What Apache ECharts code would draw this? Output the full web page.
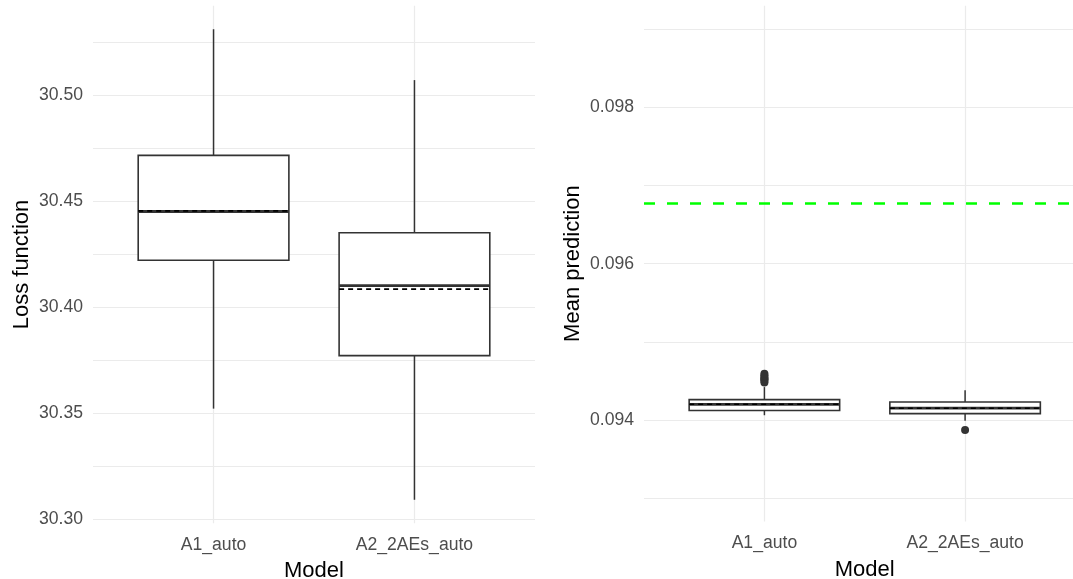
<!DOCTYPE html>
<html>
<head>
<meta charset="utf-8">
<title>Loss function and mean prediction by model</title>
<script src="https://cdn.jsdelivr.net/npm/echarts@6/dist/echarts.min.js"></script>
<style>
  html, body { margin: 0; padding: 0; background: #ffffff; }
  #chart { width: 1073px; height: 579px; }
</style>
</head>
<body>
<div id="chart"></div>
<script>
// Models on the x axis of both panels
const models = ['A1_auto', 'A2_2AEs_auto'];

// Left panel: loss function box summaries (whisker ends, quartiles, median, mean)
const lossLower  = [30.352, 30.309];
const lossQ1     = [30.422, 30.377];
const lossMedian = [30.445, 30.410];
const lossQ3     = [30.4715, 30.435];
const lossUpper  = [30.531, 30.507];
const lossMean   = [30.4453, 30.4084];
const lossBreaks      = [30.30, 30.35, 30.40, 30.45, 30.50];
const lossMinorBreaks = [30.325, 30.375, 30.425, 30.475, 30.525];

// Right panel: mean prediction box summaries
const predLower  = [0.09406, 0.09399];
const predQ1     = [0.09412, 0.09408];
const predMedian = [0.09420, 0.09415];
const predQ3     = [0.09426, 0.09423];
const predUpper  = [0.09442, 0.09438];
const predMean   = [0.09420, 0.09415];
const predOutliersA1 = [0.09448, 0.09450, 0.09452, 0.09453, 0.09455, 0.09457, 0.09459];
const predOutliersA2 = [0.09387];
const predLimits      = [0.093, 0.099];
const predBreaks      = [0.094, 0.096, 0.098];
const predMinorBreaks = [0.093, 0.095, 0.097, 0.099];
// Observed mean (reference line)
const observedMean = 0.09677;

const FONT = "'Liberation Sans', Arial, Helvetica, sans-serif";
const INK = '#333333';
const GRID_COLOR = '#EBEBEB';

// ggplot-style 5% expansion of a continuous range
function expand(lo, hi) {
  const d = (hi - lo) * 0.05;
  return [lo - d, hi + d];
}
const lossRange = expand(Math.min(...lossLower), Math.max(...lossUpper));
const predRange = expand(predLimits[0], predLimits[1]);

// Discrete x scale: positions 1..n with 0.6 padding on each side
const xPos = models.map((_, i) => i + 1);
const xMin = 1 - 0.6;
const xMax = models.length + 0.6;
const BOX_HALF = 0.375;

function boxData(lower, q1, med, q3, upper, mean) {
  return xPos.map((x, i) => [x, lower[i], q1[i], med[i], q3[i], upper[i], mean[i]]);
}

function renderBox(params, api) {
  const x = api.value(0);
  const lo = api.coord([x, api.value(1)]);
  const q1 = api.coord([x, api.value(2)]);
  const med = api.coord([x, api.value(3)]);
  const q3 = api.coord([x, api.value(4)]);
  const hi = api.coord([x, api.value(5)]);
  const mean = api.coord([x, api.value(6)]);
  const left = api.coord([x - BOX_HALF, api.value(3)])[0];
  const right = api.coord([x + BOX_HALF, api.value(3)])[0];
  return {
    type: 'group',
    children: [
      { type: 'line', shape: { x1: hi[0], y1: hi[1], x2: q3[0], y2: q3[1] },
        style: { stroke: INK, lineWidth: 1.5 } },
      { type: 'line', shape: { x1: q1[0], y1: q1[1], x2: lo[0], y2: lo[1] },
        style: { stroke: INK, lineWidth: 1.5 } },
      { type: 'rect', shape: { x: left, y: q3[1], width: right - left, height: q1[1] - q3[1] },
        style: { fill: '#ffffff', stroke: INK, lineWidth: 1.6 } },
      { type: 'line', shape: { x1: left, y1: med[1], x2: right, y2: med[1] },
        style: { stroke: INK, lineWidth: 2.8 } },
      { type: 'line', shape: { x1: left, y1: mean[1], x2: right, y2: mean[1] },
        style: { stroke: '#000000', lineWidth: 1.6, lineDash: [5, 4] } }
    ]
  };
}

function xAxisFor(gridIndex) {
  return {
    type: 'value', gridIndex: gridIndex, min: xMin, max: xMax,
    name: 'Model', nameLocation: 'middle', nameGap: 37,
    nameTextStyle: { fontFamily: FONT, fontSize: 22, color: '#000000' },
    axisLine: { show: false },
    axisTick: { show: false, customValues: xPos },
    axisLabel: {
      customValues: xPos, margin: 13,
      fontFamily: FONT, fontSize: 17.6, color: '#4D4D4D',
      formatter: v => models[Math.round(v) - 1] || ''
    },
    splitLine: { show: true, lineStyle: { color: GRID_COLOR, width: 1.2 } }
  };
}

function yAxisFor(gridIndex, name, range, breaks, minor, digits) {
  return {
    type: 'value', gridIndex: gridIndex, min: range[0], max: range[1],
    name: name, nameLocation: 'middle', nameGap: 60,
    nameTextStyle: { fontFamily: FONT, fontSize: 22, color: '#000000' },
    axisLine: { show: false },
    axisTick: { show: false, customValues: breaks.concat(minor).sort((a, b) => a - b) },
    axisLabel: {
      customValues: breaks, margin: 10,
      fontFamily: FONT, fontSize: 17.6, color: '#4D4D4D',
      formatter: v => v.toFixed(digits)
    },
    splitLine: { show: true, lineStyle: { color: GRID_COLOR, width: 1.2 } }
  };
}

const outlierPoints = []
  .concat(predOutliersA1.map(v => [xPos[0], v]))
  .concat(predOutliersA2.map(v => [xPos[1], v]));

const chart = echarts.init(document.getElementById('chart'), null, { renderer: 'canvas' });
chart.setOption({
  backgroundColor: '#ffffff',
  animation: false,
  grid: [
    { left: 93, top: 5.7, width: 442, height: 517.6, outerBoundsMode: 'none', containLabel: false },
    { left: 644, top: 5.8, width: 441.5, height: 515.7, outerBoundsMode: 'none', containLabel: false }
  ],
  xAxis: [xAxisFor(0), xAxisFor(1)],
  yAxis: [
    yAxisFor(0, 'Loss function', lossRange, lossBreaks, lossMinorBreaks, 2),
    yAxisFor(1, 'Mean prediction', predRange, predBreaks, predMinorBreaks, 3)
  ],
  series: [
    {
      type: 'custom', xAxisIndex: 0, yAxisIndex: 0, silent: true,
      renderItem: renderBox,
      data: boxData(lossLower, lossQ1, lossMedian, lossQ3, lossUpper, lossMean)
    },
    {
      // observed mean across the full panel width
      type: 'line', xAxisIndex: 1, yAxisIndex: 1, silent: true,
      symbol: 'none', z: 1,
      lineStyle: { color: '#00FF00', width: 2.6, type: [11, 12] },
      data: [[xMin, observedMean], [xMax, observedMean]]
    },
    {
      type: 'custom', xAxisIndex: 1, yAxisIndex: 1, silent: true,
      renderItem: renderBox,
      data: boxData(predLower, predQ1, predMedian, predQ3, predUpper, predMean)
    },
    {
      type: 'scatter', xAxisIndex: 1, yAxisIndex: 1, silent: true,
      symbol: 'circle', symbolSize: 8,
      itemStyle: { color: INK, opacity: 1 },
      data: outlierPoints
    }
  ]
});
</script>
</body>
</html>
